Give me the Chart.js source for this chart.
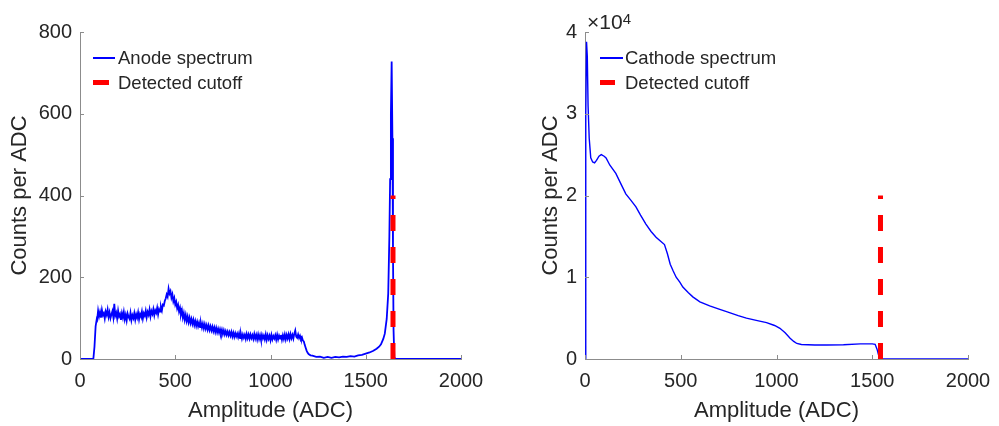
<!DOCTYPE html>
<html>
<head>
<meta charset="utf-8">
<script src="https://cdn.jsdelivr.net/npm/chart.js@4/dist/chart.umd.min.js"></script>
<style>
  body { margin: 0; background: #fff; width: 999px; height: 426px; overflow: hidden; position: relative; font-family: "Liberation Sans", Arial, sans-serif; color: #262626; }
  .panel { position: absolute; top: 0; width: 490px; height: 426px; }
  .legend { position: absolute; font-size: 18.5px; line-height: 25px; }
  .legend .row { position: relative; height: 25px; white-space: nowrap; }
  .legend .swatch { position: absolute; }
  .legend .label { position: absolute; top: 0; }
  .exp { position: absolute; font-size: 21px; line-height: 21px; white-space: nowrap; }
  .exp sup { font-size: 15px; position: relative; top: -3px; vertical-align: top; }
</style>
</head>
<body>
<div class="panel" style="left:0"><canvas id="anodeChart" width="490" height="426"></canvas></div>
<div class="panel" style="left:505px"><canvas id="cathodeChart" width="490" height="426"></canvas></div>

<div class="legend" style="left:93px; top:45px">
  <div class="row"><div class="swatch" style="left:0; top:12px; width:22px; height:2px; background:#0000ff"></div><div class="label" style="left:25px">Anode spectrum</div></div>
  <div class="row"><div class="swatch" style="left:0; top:10px; width:16px; height:5px; background:#ff0000"></div><div class="label" style="left:25px">Detected cutoff</div></div>
</div>
<div class="legend" style="left:600px; top:45px">
  <div class="row"><div class="swatch" style="left:0; top:12px; width:23px; height:2px; background:#0000ff"></div><div class="label" style="left:25px">Cathode spectrum</div></div>
  <div class="row"><div class="swatch" style="left:0; top:10px; width:15px; height:5px; background:#ff0000"></div><div class="label" style="left:25px">Detected cutoff</div></div>
</div>
<div class="exp" style="left:587px; top:11px">&times;10<sup>4</sup></div>

<script>
// anode spectrum, noisy part read in 5-ADC bins starting at 90
const anodeBinStart = 90;
const anodeBinWidth = 5;
const anodeBinned = [
  96, 118, 104, 115, 101, 120, 107, 112, 99, 116,
  108, 121, 103, 114, 100, 109, 117, 102, 135, 106,
  113, 99, 118, 104, 110, 96, 112, 101, 115, 97,
  108, 94, 111, 103, 98, 113, 95, 107, 100, 112,
  96, 109, 101, 114, 97, 110, 104, 116, 99, 112,
  106, 118, 102, 115, 108, 121, 104, 117, 110, 122,
  107, 119, 113, 125, 109, 122, 116, 128, 119, 133,
  131, 142, 148, 158, 152, 172, 160, 166, 150, 158,
  141, 149, 133, 140, 124, 132, 116, 125, 109, 119,
  101, 112, 96, 108, 93, 104, 90, 101, 88, 98,
  86, 96, 83, 93, 81, 91, 80, 89, 78, 88,
  77, 87, 75, 85, 74, 83, 72, 82, 71, 80,
  70, 79, 68, 77, 66, 76, 65, 74, 64, 73,
  63, 72, 61, 70, 60, 68, 59, 67, 58, 66,
  57, 66, 55, 64, 54, 63, 55, 62, 53, 63,
  51, 61, 50, 60, 52, 59, 49, 61, 51, 60,
  50, 60, 51, 58, 49, 61, 50, 59, 48, 60,
  49, 58, 47, 59, 50, 57, 48, 60, 47, 58,
  49, 57, 46, 59, 48, 56, 50, 58, 47, 59,
  48, 57, 50, 59, 47, 58, 49, 60, 48, 59,
  50, 60, 49, 61, 51, 59, 50, 62, 70, 55,
  52, 60, 51, 57, 49, 53, 45, 43, 34, 27,
  20, 15, 12];
// anode spectrum, onset and tail read point by point
const anodeOnsetX = [0, 70, 76, 82, 88];
const anodeOnsetY = [0, 0, 30, 80, 98];
const anodeTailX = [1210, 1220, 1240, 1260, 1280, 1300, 1320, 1340, 1360, 1380, 1400, 1420, 1440, 1460, 1480, 1500, 1520, 1540,
  1557, 1570, 1580, 1592, 1600, 1610, 1618, 1624, 1628, 1632, 1636, 1640, 1643, 1646, 1650, 1660, 2000];
const anodeTailY = [9, 8, 5, 6, 3, 5, 3, 5, 4, 6, 5, 7, 6, 9, 10, 13, 16, 20,
  25, 30, 36, 49, 62, 98, 160, 300, 440, 600, 728, 540, 260, 70, 3, 0, 0];

// cathode spectrum (counts per ADC)
const cathodeX = [0, 4, 8, 12, 16, 22, 30, 40, 50, 60, 73, 85, 100, 110, 130, 161, 190, 213, 240, 266, 290,
  318, 345, 371, 395, 415, 430, 445, 460, 476, 495, 511, 540, 563, 600, 651, 700, 739, 800, 843, 900,
  948, 990, 1018, 1045, 1071, 1090, 1106, 1130, 1200, 1263, 1350, 1438, 1500, 1515, 1525, 1535, 1545, 2000];
const cathodeY = [0, 30000, 38800, 37000, 31000, 27000, 24600, 24100, 24000, 24300, 24800, 25000, 24800, 24600, 23700, 22700, 21300, 20200, 19400, 18600, 17600,
  16500, 15600, 14900, 14400, 14000, 12900, 11600, 10800, 10000, 9400, 8800, 8100, 7600, 7000, 6500, 6100, 5800, 5300, 5000, 4700,
  4450, 4100, 3750, 3200, 2550, 2150, 1900, 1780, 1720, 1710, 1750, 1850, 1850, 1800, 1200, 300, 0, 0];

// detected cutoffs
const anodeCutoffX = [1643, 1643];
const anodeCutoffY = [0, 400];
const cathodeCutoffX = [1543, 1543];
const cathodeCutoffY = [0, 20000];

const xTicks = [0, 500, 1000, 1500, 2000];
const anodeYTicks = [0, 200, 400, 600, 800];
const cathodeYTicks = [0, 10000, 20000, 30000, 40000];

const textColor = '#262626';
const axisColor = '#8c8c8c';
const fontFamily = '"Liberation Sans", Arial, sans-serif';

function toPoints(xs, ys) {
    return xs.map((x, i) => ({ x: x, y: ys[i] }));
}

const anodeSpectrum = toPoints(anodeOnsetX, anodeOnsetY)
    .concat(anodeBinned.map((y, i) => ({ x: anodeBinStart + i * anodeBinWidth, y: y })))
    .concat(toPoints(anodeTailX, anodeTailY));
const cathodeSpectrum = toPoints(cathodeX, cathodeY);

// MATLAB style ticks pointing into the plot
const inwardTicks = {
    id: 'inwardTicks',
    afterDraw(chart) {
        const ctx = chart.ctx;
        const xs = chart.scales.x;
        const ys = chart.scales.y;
        ctx.save();
        ctx.strokeStyle = axisColor;
        ctx.lineWidth = 1;
        ctx.beginPath();
        xs.ticks.forEach(t => {
            const px = Math.round(xs.getPixelForValue(t.value)) + 0.5;
            ctx.moveTo(px, ys.bottom);
            ctx.lineTo(px, ys.bottom - 4);
        });
        ys.ticks.forEach(t => {
            const py = Math.round(ys.getPixelForValue(t.value)) + 0.5;
            ctx.moveTo(xs.left, py);
            ctx.lineTo(xs.left + 4, py);
        });
        ctx.stroke();
        ctx.restore();
    }
};

function makeChart(id, spectrum, lineWidth, cutX, cutY, yMax, yTicks, yFormat, padRight, yTitlePad) {
    new Chart(document.getElementById(id), {
        type: 'line',
        data: {
            datasets: [{
                label: 'Detected cutoff',
                data: toPoints(cutX, cutY),
                borderColor: '#ff0000',
                borderWidth: 5,
                borderDash: [16, 16],
                borderCapStyle: 'butt',
                pointRadius: 0,
                order: 0
            }, {
                label: 'spectrum',
                data: spectrum,
                borderColor: '#0000ff',
                borderWidth: lineWidth,
                pointRadius: 0,
                tension: 0,
                order: 1
            }]
        },
        options: {
            responsive: false,
            animation: false,
            layout: { padding: { top: 32, right: padRight, left: 0, bottom: 0 } },
            plugins: { legend: { display: false }, tooltip: { enabled: false } },
            scales: {
                x: {
                    type: 'linear',
                    min: 0,
                    max: 2000,
                    afterBuildTicks: s => { s.ticks = xTicks.map(v => ({ value: v })); },
                    afterFit: s => { s.height = 67; s.paddingLeft = 0; s.paddingRight = 0; },
                    grid: { drawOnChartArea: false, drawTicks: false },
                    border: { color: axisColor, width: 1 },
                    ticks: { color: textColor, padding: 10, maxRotation: 0, callback: v => String(v), font: { family: fontFamily, size: 20 } },
                    title: { display: true, text: 'Amplitude (ADC)', color: textColor, padding: { top: 0, bottom: 2 }, font: { family: fontFamily, size: 22 } }
                },
                y: {
                    type: 'linear',
                    min: 0,
                    max: yMax,
                    afterBuildTicks: s => { s.ticks = yTicks.map(v => ({ value: v })); },
                    afterFit: s => { s.width = 80; s.paddingTop = 0; s.paddingBottom = 0; },
                    grid: { drawOnChartArea: false, drawTicks: false },
                    border: { color: axisColor, width: 1 },
                    ticks: { color: textColor, padding: 8, callback: yFormat, font: { family: fontFamily, size: 20 } },
                    title: { display: true, text: 'Counts per ADC', color: textColor, padding: { top: yTitlePad, bottom: 0 }, font: { family: fontFamily, size: 22 } }
                }
            }
        },
        plugins: [inwardTicks]
    });
}

makeChart('anodeChart', anodeSpectrum, 1.8, anodeCutoffX, anodeCutoffY, 800, anodeYTicks, v => String(v), 29, 7);
makeChart('cathodeChart', cathodeSpectrum, 1.4, cathodeCutoffX, cathodeCutoffY, 40000, cathodeYTicks, v => String(v / 10000), 27, 33);
</script>
</body>
</html>
